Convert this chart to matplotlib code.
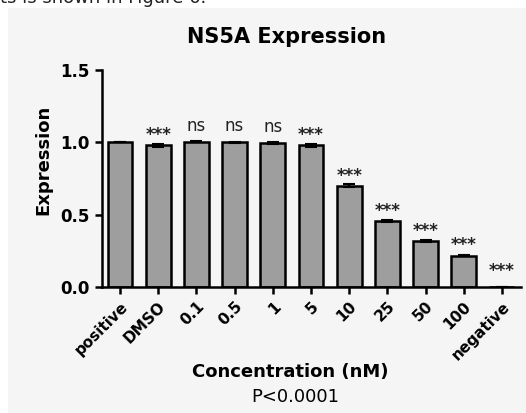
import matplotlib
matplotlib.use("Agg")
import matplotlib.pyplot as plt
from matplotlib.patches import Rectangle

# Data
categories = ["positive", "DMSO", "0.1", "0.5", "1", "5", "10", "25", "50", "100", "negative"]
expression = [1.0, 0.98, 1.005, 1.0, 0.995, 0.98, 0.70, 0.455, 0.32, 0.217, 0.0]
errors = [0.0, 0.01, 0.005, 0.005, 0.005, 0.01, 0.012, 0.008, 0.008, 0.006, 0.0]
significance = ["", "***", "ns", "ns", "ns", "***", "***", "***", "***", "***", "***"]

plt.rcParams["font.family"] = ["DejaVu Sans"]

W, H = 526, 413
fig = plt.figure(figsize=(W / 100, H / 100), dpi=100, facecolor="white")

# light gray panel behind the chart (screenshot background)
fig.patches.append(Rectangle((8 / W, 0), 1, 1 - 8 / H, transform=fig.transFigure,
                             facecolor="#f5f5f5", edgecolor="none", zorder=-5))
fig.text(0.0, 1 - 3 / H, "ts is shown in Figure 6.", fontsize=13, color="#222222",
         ha="left", va="baseline")

ax = fig.add_axes([101.7 / W, 1 - 287 / H, (521 - 101.7) / W, (287 - 70) / H])
ax.set_facecolor("none")

x = list(range(len(categories)))
ax.bar(x, expression, width=0.65, color="#9e9e9e", edgecolor="black", linewidth=1.8,
       yerr=errors, capsize=4, error_kw=dict(elinewidth=1.5, capthick=1.5), zorder=2)

for xi, v, s in zip(x, expression, significance):
    if not s:
        continue
    if s == "ns":
        ax.text(xi, v + 0.11, s, ha="center", va="center", fontsize=12, color="#222222")
    else:
        ax.text(xi, max(v + 0.07, 0.11), s, ha="center", va="center", fontsize=12,
                fontweight="bold", color="#222222")

ax.set_xlim(-0.48, 10.5)
ax.set_ylim(0, 1.5)
ax.set_yticks([0.0, 0.5, 1.0, 1.5])
ax.set_yticklabels(["0.0", "0.5", "1.0", "1.5"], fontsize=12, fontweight="bold")
ax.set_xticks(x)
ax.set_xticklabels(categories, rotation=45, ha="right", rotation_mode="anchor",
                   fontsize=11, fontweight="bold")

for side in ["top", "right"]:
    ax.spines[side].set_visible(False)
for side in ["left", "bottom"]:
    ax.spines[side].set_linewidth(1.8)
ax.tick_params(axis="both", width=1.8, length=5, direction="out")

fig.text(287 / W, 1 - 37 / H, "NS5A Expression", fontsize=15, fontweight="bold",
         ha="center", va="center")
fig.text(43 / W, 1 - 160 / H, "Expression", fontsize=13, fontweight="bold",
         rotation=90, ha="center", va="center")
fig.text(290 / W, 1 - 372 / H, "Concentration (nM)", fontsize=13, fontweight="bold",
         ha="center", va="center")
fig.text(295 / W, 1 - 397 / H, "P<0.0001", fontsize=13, ha="center", va="center")

fig.savefig("out.png", dpi=100, facecolor=fig.get_facecolor())
